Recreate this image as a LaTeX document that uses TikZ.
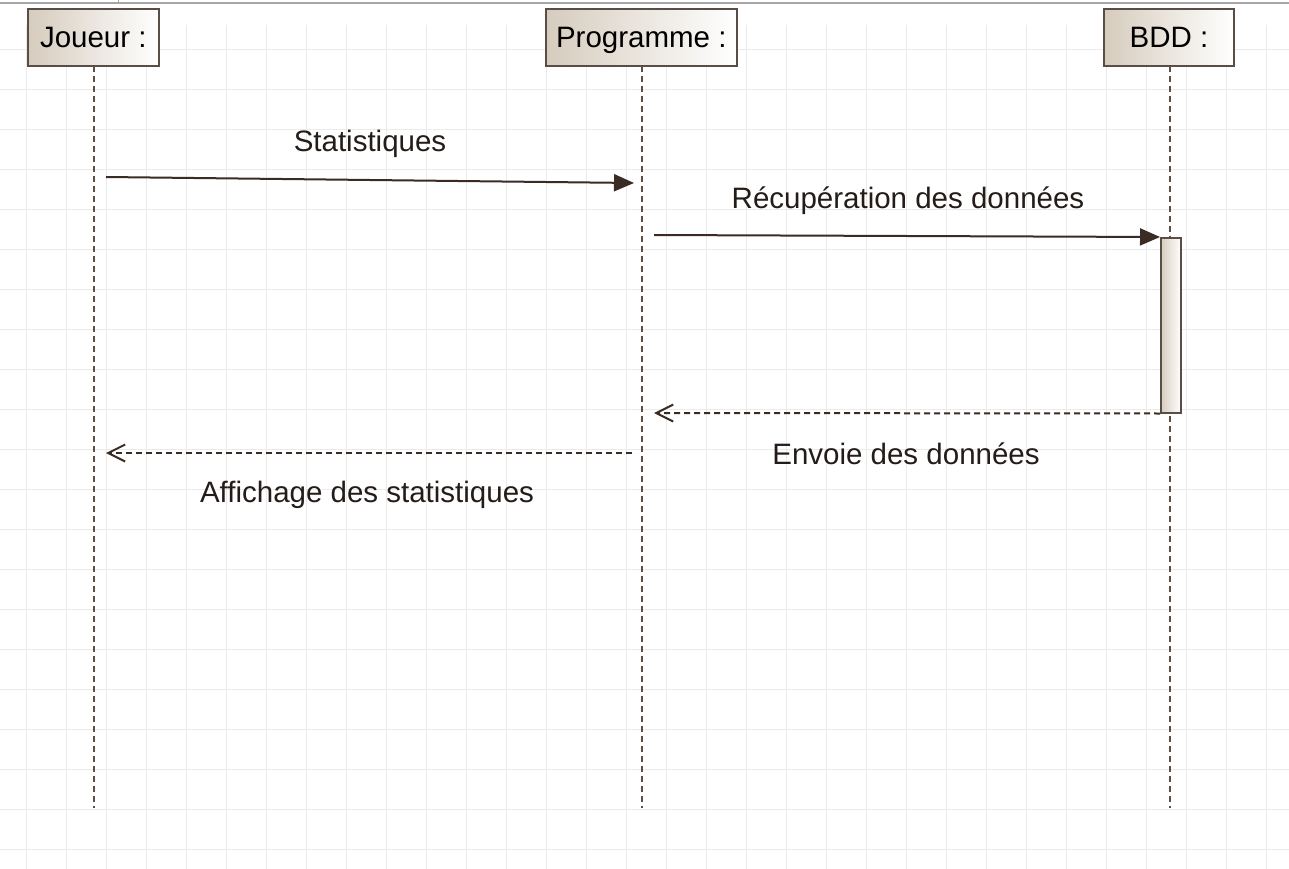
\documentclass[tikz,border=0pt]{standalone}
\usepackage{fontspec}
\setmainfont{Liberation Sans}
\usetikzlibrary{arrows.meta,shadings}
\definecolor{gridc}{HTML}{EBEBEB}
\definecolor{lifec}{HTML}{5E4E44}
\definecolor{msgc}{HTML}{3A2C24}
\definecolor{boxc}{HTML}{5A4D45}
\definecolor{tanc}{HTML}{D6CCBE}
\definecolor{txtc}{HTML}{231C18}
\tikzset{
  x=1pt, y=-1pt,
  objbox/.style={draw=boxc, line width=2pt, left color=tanc, right color=white,
    minimum height=56.7pt, inner sep=0pt, text height=22pt, text depth=2pt,
    font=\fontsize{29.5}{33}\selectfont, text=black},
  lifeline/.style={draw=lifec, line width=2.2pt, dash pattern=on 6pt off 4pt},
  callmsg/.style={draw=msgc, line width=2pt, -{Triangle[length=20pt,width=17pt]}},
  retmsg/.style={draw=msgc, line width=2pt, dash pattern=on 6pt off 4pt,
    -{Straight Barb[length=17pt,width=17pt,line width=2pt]}},
  lbl/.style={font=\fontsize{29.5}{33}\selectfont, text=txtc, anchor=base, inner sep=0pt},
  actbar/.style={draw=boxc, line width=1.5pt, left color=tanc, right color=white}
}
\begin{document}
\begin{tikzpicture}
\useasboundingbox[fill=white] (0,0) rectangle (1289,869);
% grid
\foreach \k in {0,...,31} \draw[gridc, line width=1pt] (26.7+40*\k,25) -- (26.7+40*\k,869);
\foreach \k in {0,...,20} \draw[gridc, line width=1pt] (0,49.3+40*\k) -- (1289,49.3+40*\k);
% top frame
\draw[gray!70, line width=1.5pt] (0,3) -- (1289,3);
\draw[gray!70, line width=1pt] (118,0) -- (118,3);
% objects
\node[objbox, minimum width=130.7pt] (joueur) at (93.3,37.3) {Joueur :};
\node[objbox, minimum width=190.7pt] (prog) at (641.3,37.3) {Programme :};
\node[objbox, minimum width=130pt] (bdd) at (1169,37.3) {BDD :};
% lifeline ends
\coordinate (jend) at (94,808);
\coordinate (pend) at (642,808);
\coordinate (bend) at (1170,808);
\draw[lifeline] (94,65.7) -- (jend);
\draw[lifeline] (642,65.7) -- (pend);
\draw[lifeline] (1170,65.7) -- (bend);
% activation bar
\node[actbar, minimum width=20pt, minimum height=175pt, inner sep=0pt, anchor=north west] (act) at (1160,237) {};
% message endpoints
\coordinate (m1s) at (106,177);
\coordinate (m1e) at (634,183);
\coordinate (m2s) at (654,235);
\coordinate (m3e) at (654,413);
\coordinate (m4s) at (632,453);
\coordinate (m4e) at (106,453);
\draw[callmsg] (m1s) -- (m1e);
\draw[callmsg] (m2s) -- (act.north west);
\draw[retmsg] (act.south west) -- (m3e);
\draw[retmsg] (m4s) -- (m4e);
% labels
\node[lbl] (l1) at (370,151.7) {Statistiques};
\node[lbl] (l2) at (908,208) {Récupération des données};
\node[lbl] (l3) at (906,464) {Envoie des données};
\node[lbl] (l4) at (367,502) {Affichage des statistiques};
\end{tikzpicture}
\end{document}
